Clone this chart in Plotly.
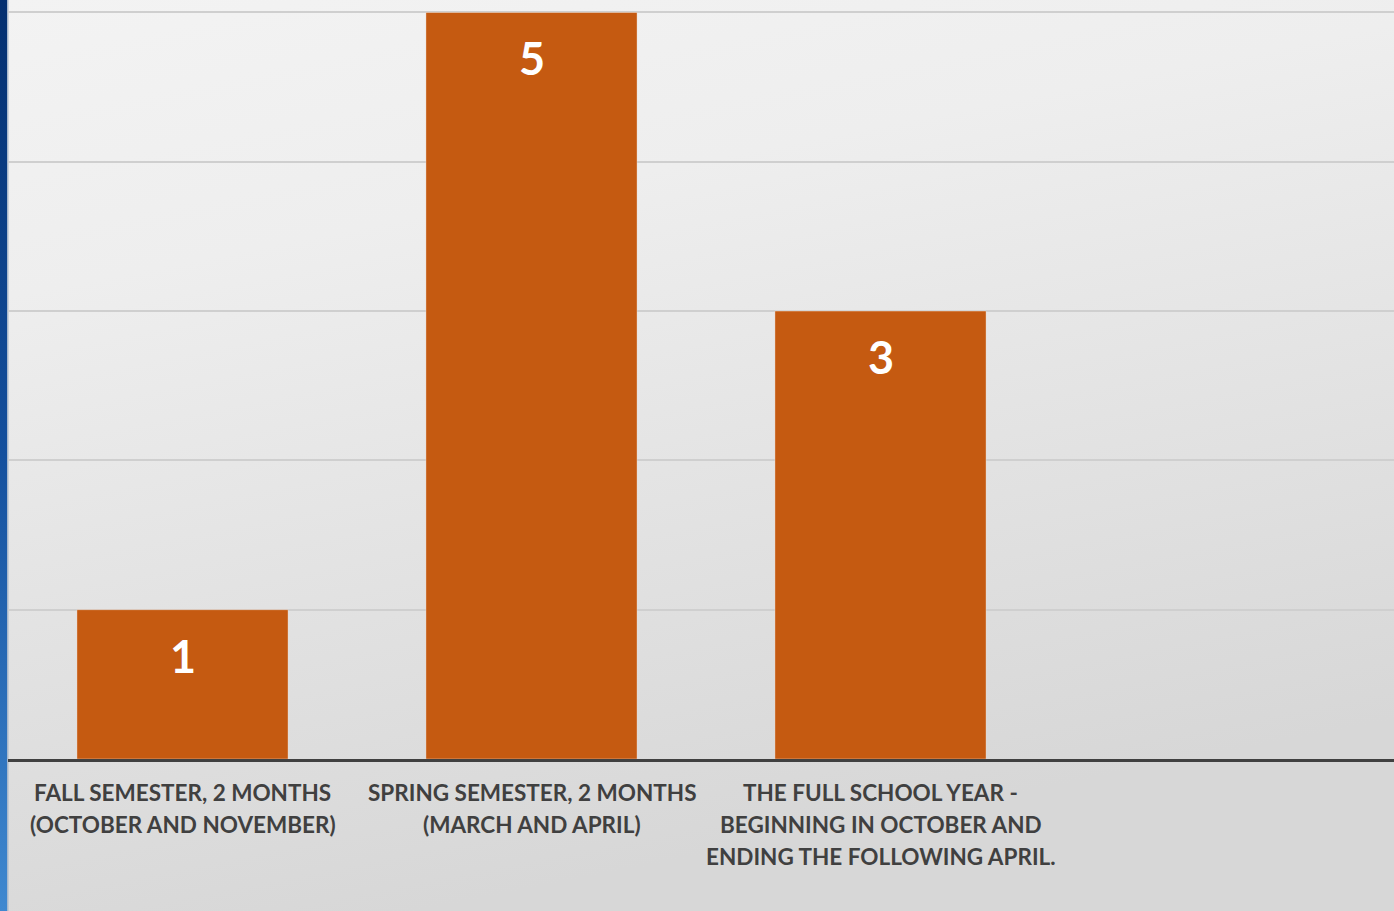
import base64
import plotly.graph_objects as go

categories = [
    "FALL SEMESTER, 2 MONTHS<br>(OCTOBER AND NOVEMBER)",
    "SPRING SEMESTER, 2 MONTHS<br>(MARCH AND APRIL)",
    "THE FULL SCHOOL YEAR -<br>BEGINNING IN OCTOBER AND<br>ENDING THE FOLLOWING APRIL.",
]
values = [1, 5, 3]
positions = [0, 1, 2]

W, H = 1394, 911
ML, MT, MB = 0, 8, 152
plot_h = H - MT - MB

bg_svg = (
    '<svg xmlns="http://www.w3.org/2000/svg" width="1394" height="911" preserveAspectRatio="none">'
    '<defs><linearGradient id="g" x1="0" y1="0" x2="0.3" y2="1">'
    '<stop offset="0" stop-color="#f3f3f3"/><stop offset="0.3" stop-color="#eeeeee"/>'
    '<stop offset="1" stop-color="#d7d7d7"/>'
    '</linearGradient>'
    '<linearGradient id="b" x1="0" y1="0" x2="0" y2="1">'
    '<stop offset="0" stop-color="#032f70"/><stop offset="0.5" stop-color="#14509e"/>'
    '<stop offset="1" stop-color="#3f88d0"/></linearGradient></defs>'
    '<rect width="1394" height="911" fill="url(#g)"/>'
    '<rect width="7" height="911" fill="url(#b)"/>'
    '<rect x="7" width="1.5" height="911" fill="#a8b8cc"/>'
    '</svg>'
)
bg_uri = "data:image/svg+xml;base64," + base64.b64encode(bg_svg.encode()).decode()

fig = go.Figure()
fig.add_trace(go.Bar(
    x=positions, y=values, width=0.605,
    marker=dict(color="#c55a11", line=dict(color="rgba(255,255,255,0.35)", width=1)),
    hoverinfo="skip",
))

for xv, yv in zip(positions, values):
    fig.add_annotation(x=xv, y=yv, text=f"<b>{yv}</b>", showarrow=False,
                       yanchor="middle", yshift=-46,
                       font=dict(family="Lato", size=45, color="white"))

for xv, label in zip(positions, categories):
    for i, line in enumerate(label.split("<br>")):
        fig.add_annotation(x=xv, y=0, text=f"<b>{line}</b>", showarrow=False,
                           yanchor="middle", yshift=-33 - 32 * i,
                           font=dict(family="Lato", size=22.5, color="#404040"))

x0 = 8 / W
fig.update_layout(
    width=W, height=H,
    margin=dict(l=ML, r=0, t=MT, b=MB, pad=0),
    paper_bgcolor="rgba(0,0,0,0)", plot_bgcolor="rgba(0,0,0,0)",
    showlegend=False,
    images=[dict(source=bg_uri, xref="paper", yref="paper", x=0, y=1 + MT / plot_h,
                 sizex=1, sizey=H / plot_h, sizing="stretch", layer="below",
                 xanchor="left", yanchor="top")],
    xaxis=dict(domain=[x0, 1], range=[-0.5, -0.5 + (W - 8) / 349.0],
               tickvals=positions, showticklabels=False, ticks="",
               showline=True, linecolor="#404040", linewidth=3,
               showgrid=False, zeroline=False, fixedrange=True),
    yaxis=dict(range=[0, 5.03], tickvals=[1, 2, 3, 4, 5], showticklabels=False,
               showgrid=True, gridcolor="#cfcfcf", gridwidth=2, zeroline=False,
               showline=False, fixedrange=True),
)

fig.write_html("out.html", config={"displayModeBar": False})
